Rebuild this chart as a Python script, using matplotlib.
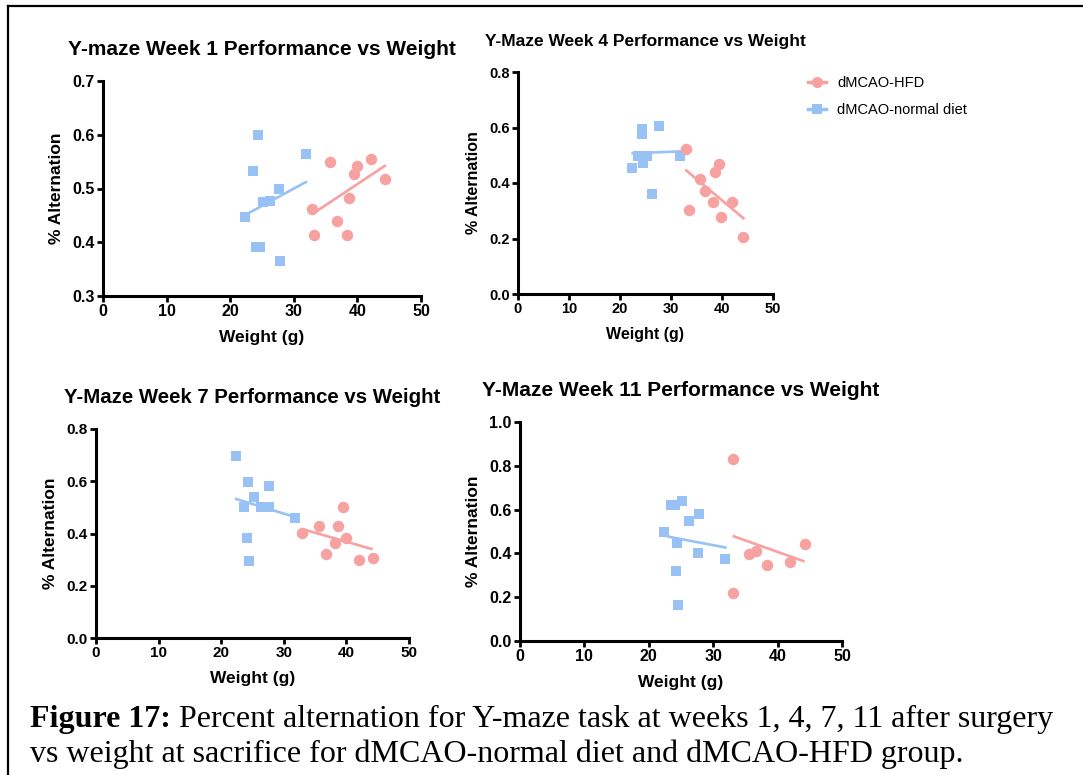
# Y-maze alternation vs body weight, four time points (weeks 1, 4, 7, 11)
import matplotlib
matplotlib.use('Agg')
import matplotlib.pyplot as plt
from matplotlib.lines import Line2D

# Colours of the two groups
hfd_color = '#F7A1A1'
normal_color = '#98C1F5'

# Week 1
w1_normal_x = [24.4, 23.6, 31.9, 27.7, 22.4, 25.2, 26.3, 24.1, 24.7, 27.8]
w1_normal_y = [0.599, 0.532, 0.564, 0.499, 0.447, 0.474, 0.477, 0.392, 0.392, 0.366]
w1_hfd_x = [35.7, 42.1, 40.0, 39.5, 44.3, 38.7, 32.9, 36.8, 33.1, 38.3]
w1_hfd_y = [0.550, 0.554, 0.542, 0.527, 0.517, 0.483, 0.461, 0.440, 0.413, 0.413]
w1_normal_fit_x = [22.4, 31.9]
w1_normal_fit_y = [0.451, 0.512]
w1_hfd_fit_x = [33.1, 44.3]
w1_hfd_fit_y = [0.454, 0.542]

# Week 4
w4_normal_x = [24.3, 24.4, 27.6, 22.4, 23.5, 25.3, 24.5, 26.3, 31.8, 24.9]
w4_normal_y = [0.596, 0.578, 0.607, 0.453, 0.498, 0.498, 0.471, 0.362, 0.498, 0.498]
w4_hfd_x = [32.9, 33.5, 35.6, 36.7, 38.7, 39.4, 38.2, 39.9, 42.0, 44.2]
w4_hfd_y = [0.521, 0.303, 0.414, 0.372, 0.438, 0.468, 0.330, 0.279, 0.333, 0.207]
w4_normal_fit_x = [22.5, 31.9]
w4_normal_fit_y = [0.507, 0.514]
w4_hfd_fit_x = [33.0, 44.2]
w4_hfd_fit_y = [0.445, 0.273]

# Week 7
w7_normal_x = [22.3, 24.3, 27.7, 25.2, 23.6, 26.4, 27.7, 31.8, 24.1, 24.5]
w7_normal_y = [0.698, 0.599, 0.583, 0.538, 0.503, 0.503, 0.503, 0.461, 0.384, 0.293]
w7_hfd_x = [32.9, 35.6, 38.7, 39.4, 39.9, 38.2, 36.7, 42.0, 44.2]
w7_hfd_y = [0.401, 0.429, 0.429, 0.500, 0.384, 0.365, 0.321, 0.299, 0.307]
w7_normal_fit_x = [22.4, 31.8]
w7_normal_fit_y = [0.532, 0.463]
w7_hfd_fit_x = [33.1, 44.0]
w7_hfd_fit_y = [0.416, 0.341]

# Week 11
w11_normal_x = [22.4, 23.5, 24.0, 25.2, 26.3, 27.8, 24.4, 27.6, 31.9, 24.2, 24.6]
w11_normal_y = [0.496, 0.623, 0.623, 0.638, 0.550, 0.580, 0.446, 0.400, 0.373, 0.319, 0.165]
w11_hfd_x = [33.0, 33.1, 35.6, 36.7, 38.3, 42.0, 44.2]
w11_hfd_y = [0.831, 0.220, 0.398, 0.412, 0.348, 0.362, 0.443]
w11_normal_fit_x = [23.1, 31.9]
w11_normal_fit_y = [0.476, 0.427]
w11_hfd_fit_x = [33.2, 44.0]
w11_hfd_fit_y = [0.478, 0.365]

legend_labels = ['dMCAO-HFD', 'dMCAO-normal diet']
caption_bold = 'Figure 17:'
caption_line1 = ' Percent alternation for Y-maze task at weeks 1, 4, 7, 11 after surgery'
caption_line2 = 'vs weight at sacrifice for dMCAO-normal diet and dMCAO-HFD group.'

plt.rcParams['font.family'] = ['Liberation Sans', 'DejaVu Sans']

W, H = 1083, 775
fig = plt.figure(figsize=(W / 100, H / 100), dpi=100)


def px_axes(left, top, right, bottom):
    # axes box given in pixel coordinates of the picture
    return fig.add_axes([left / W, 1 - bottom / H, (right - left) / W, (bottom - top) / H])


def draw_panel(ax, title, nx, ny, hx, hy, nfx, nfy, hfx, hfy, ylim, yticks, fs):
    title_fs, tick_fs, label_fs = fs
    ax.plot(nfx, nfy, color=normal_color, lw=1.9, zorder=2)
    ax.plot(hfx, hfy, color=hfd_color, lw=1.9, zorder=2)
    ax.scatter(nx, ny, marker='s', s=55, color=normal_color, linewidths=0, zorder=3)
    ax.scatter(hx, hy, marker='o', s=68, color=hfd_color, linewidths=0, zorder=3)

    ax.set_xlim(0, 50)
    ax.set_ylim(*ylim)
    ax.set_xticks([0, 10, 20, 30, 40, 50])
    ax.set_yticks(yticks)
    ax.set_yticklabels(['%.1f' % t for t in yticks])

    for side in ['top', 'right']:
        ax.spines[side].set_visible(False)
    for side in ['left', 'bottom']:
        ax.spines[side].set_linewidth(2.2)
    ax.tick_params(width=2.0, length=4, pad=2, labelsize=tick_fs)
    for lab in ax.get_xticklabels() + ax.get_yticklabels():
        lab.set_fontweight('bold')

    ax.set_title(title, fontsize=title_fs, fontweight='bold', pad=19)
    ax.set_xlabel('Weight (g)', fontsize=label_fs, fontweight='bold', labelpad=8)
    ax.set_ylabel('% Alternation', fontsize=label_fs, fontweight='bold', labelpad=6)


ax1 = px_axes(103, 81, 421, 296)
draw_panel(ax1, 'Y-maze Week 1 Performance vs Weight',
           w1_normal_x, w1_normal_y, w1_hfd_x, w1_hfd_y,
           w1_normal_fit_x, w1_normal_fit_y, w1_hfd_fit_x, w1_hfd_fit_y,
           (0.3, 0.7), [0.3, 0.4, 0.5, 0.6, 0.7], (15, 11.5, 12.5))

ax2 = px_axes(518, 72, 773, 294)
draw_panel(ax2, 'Y-Maze Week 4 Performance vs Weight',
           w4_normal_x, w4_normal_y, w4_hfd_x, w4_hfd_y,
           w4_normal_fit_x, w4_normal_fit_y, w4_hfd_fit_x, w4_hfd_fit_y,
           (0.0, 0.8), [0.0, 0.2, 0.4, 0.6, 0.8], (12.5, 10.5, 11.5))

ax3 = px_axes(96, 429, 409, 638)
draw_panel(ax3, 'Y-Maze Week 7 Performance vs Weight',
           w7_normal_x, w7_normal_y, w7_hfd_x, w7_hfd_y,
           w7_normal_fit_x, w7_normal_fit_y, w7_hfd_fit_x, w7_hfd_fit_y,
           (0.0, 0.8), [0.0, 0.2, 0.4, 0.6, 0.8], (14.7, 11, 12.5))

ax4 = px_axes(520, 422, 842, 641)
draw_panel(ax4, 'Y-Maze Week 11 Performance vs Weight',
           w11_normal_x, w11_normal_y, w11_hfd_x, w11_hfd_y,
           w11_normal_fit_x, w11_normal_fit_y, w11_hfd_fit_x, w11_hfd_fit_y,
           (0.0, 1.0), [0.0, 0.2, 0.4, 0.6, 0.8, 1.0], (15, 11.5, 12.5))

# Legend to the right of week 4
handles = [Line2D([], [], color=hfd_color, lw=2.5, marker='o', markersize=8, markeredgewidth=0),
           Line2D([], [], color=normal_color, lw=2.5, marker='s', markersize=7.5, markeredgewidth=0)]
fig.legend(handles, legend_labels, loc='upper left', bbox_to_anchor=(808 / W, 1 - 76 / H),
           frameon=False, fontsize=10.5, handlelength=1.2, handletextpad=0.8,
           labelspacing=0.9, borderpad=0, borderaxespad=0)

# Caption
cap_font = 'Liberation Serif'
t = fig.text(30 / W, 1 - 727 / H, caption_bold, family=cap_font, fontsize=23,
             fontweight='bold', va='baseline', ha='left')
fig.canvas.draw()
bb = t.get_window_extent(renderer=fig.canvas.get_renderer())
fig.text(bb.x1 / W, 1 - 727 / H, caption_line1, family=cap_font, fontsize=23,
         va='baseline', ha='left')
fig.text(30 / W, 1 - 762 / H, caption_line2, family=cap_font, fontsize=23,
         va='baseline', ha='left')

# Frame around the figure
fig.add_artist(Line2D([8 / W, 1], [1 - 6 / H, 1 - 6 / H], color='black', lw=1.6))
fig.add_artist(Line2D([8 / W, 8 / W], [0, 1 - 6 / H], color='black', lw=1.6))

fig.savefig('out.png', dpi=100)
